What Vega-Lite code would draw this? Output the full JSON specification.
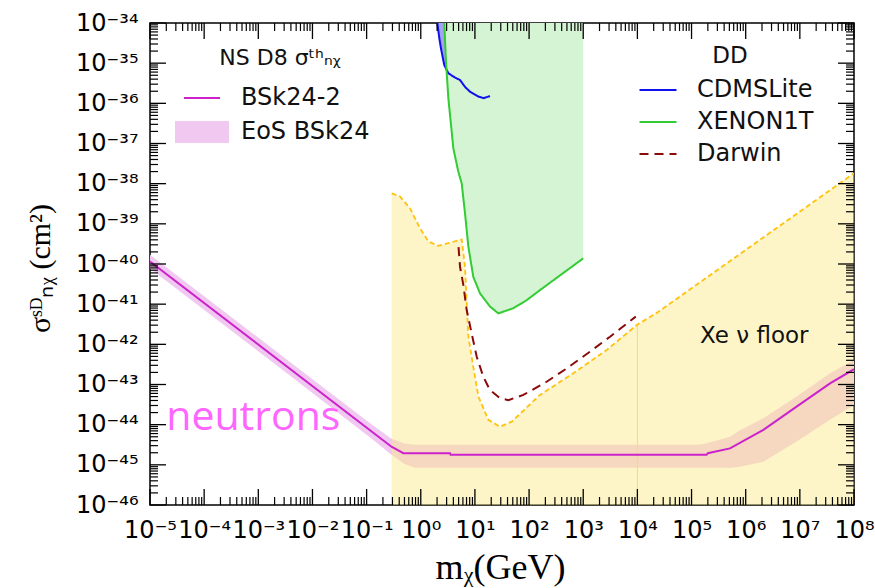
{
  "$schema": "https://vega.github.io/schema/vega-lite/v6.json",
  "width": 704,
  "height": 482,
  "autosize": {"type": "none"},
  "padding": {"left": 150, "top": 23, "right": 21, "bottom": 83},
  "background": "white",
  "config": {
    "view": {"stroke": "black", "strokeWidth": 1.5},
    "font": "DejaVu Sans",
    "axis": {"domain": false, "ticks": false, "grid": false, "labelColor": "black", "labelFont": "DejaVu Sans", "labelFontSize": 24, "titleColor": "black", "labelFlush": false, "labelOverlap": false, "labelBound": false}
  },
  "datasets": {
    "band": [
      {"m": 1e-5, "hi": 1.70e-40, "lo": 7.76e-41, "ns": "EoS BSk24"},
      {"m": 3.16e-3, "hi": 4.47e-43, "lo": 2.04e-43, "ns": "EoS BSk24"},
      {"m": 0.126, "hi": 1.0e-44, "lo": 4.37e-45, "ns": "EoS BSk24"},
      {"m": 0.288, "hi": 4.47e-45, "lo": 1.78e-45, "ns": "EoS BSk24"},
      {"m": 0.501, "hi": 3.39e-45, "lo": 1.05e-45, "ns": "EoS BSk24"},
      {"m": 0.794, "hi": 3.16e-45, "lo": 8.51e-46, "ns": "EoS BSk24"},
      {"m": 1.26e5, "hi": 3.16e-45, "lo": 8.51e-46, "ns": "EoS BSk24"},
      {"m": 1.66e5, "hi": 3.31e-45, "lo": 8.51e-46, "ns": "EoS BSk24"},
      {"m": 3.16e5, "hi": 4.17e-45, "lo": 8.51e-46, "ns": "EoS BSk24"},
      {"m": 5.13e5, "hi": 5.01e-45, "lo": 8.51e-46, "ns": "EoS BSk24"},
      {"m": 7.87e5, "hi": 7.24e-45, "lo": 8.91e-46, "ns": "EoS BSk24"},
      {"m": 2.12e6, "hi": 1.45e-44, "lo": 1.20e-45, "ns": "EoS BSk24"},
      {"m": 8.71e6, "hi": 5.01e-44, "lo": 3.80e-45, "ns": "EoS BSk24"},
      {"m": 3.61e7, "hi": 1.91e-43, "lo": 1.32e-44, "ns": "EoS BSk24"},
      {"m": 1e8, "hi": 4.07e-43, "lo": 3.09e-44, "ns": "EoS BSk24"}
    ],
    "bsk": [
      {"m": 1e-5, "s": 1.15e-40, "ns": "BSk24-2"},
      {"m": 0.288, "s": 2.82e-45, "ns": "BSk24-2"},
      {"m": 0.476, "s": 1.95e-45, "ns": "BSk24-2"},
      {"m": 3.47, "s": 1.95e-45, "ns": "BSk24-2"},
      {"m": 3.55, "s": 1.78e-45, "ns": "BSk24-2"},
      {"m": 1.9e5, "s": 1.78e-45, "ns": "BSk24-2"},
      {"m": 2.0e5, "s": 1.95e-45, "ns": "BSk24-2"},
      {"m": 5.13e5, "s": 2.57e-45, "ns": "BSk24-2"},
      {"m": 2.12e6, "s": 7.41e-45, "ns": "BSk24-2"},
      {"m": 8.71e6, "s": 2.82e-44, "ns": "BSk24-2"},
      {"m": 3.61e7, "s": 1.07e-43, "ns": "BSk24-2"},
      {"m": 1e8, "s": 2.40e-43, "ns": "BSk24-2"}
    ],
    "floor": [
      {"m": 0.290, "s": 5.75e-39},
      {"m": 0.414, "s": 4.79e-39},
      {"m": 0.632, "s": 2.45e-39},
      {"m": 0.968, "s": 7.76e-40},
      {"m": 1.38, "s": 3.63e-40},
      {"m": 2.11, "s": 2.82e-40},
      {"m": 3.23, "s": 3.31e-40},
      {"m": 5.70, "s": 4.07e-40},
      {"m": 6.56, "s": 8.51e-41},
      {"m": 7.24, "s": 4.90e-42},
      {"m": 7.57, "s": 1.55e-42},
      {"m": 9.33, "s": 2.75e-43},
      {"m": 11.6, "s": 5.01e-44},
      {"m": 17.7, "s": 1.32e-44},
      {"m": 29.0, "s": 8.91e-45},
      {"m": 47.9, "s": 1.19e-44},
      {"m": 159, "s": 5.50e-44},
      {"m": 656, "s": 1.91e-43},
      {"m": 2716, "s": 7.24e-43},
      {"m": 9727, "s": 3.02e-42},
      {"m": 24400, "s": 6.46e-42},
      {"m": 1e8, "s": 1.82e-38}
    ],
    "dd": [
      {"det": "CDMSLite", "m": 2.02, "s": 1.0e-34},
      {"det": "CDMSLite", "m": 2.20, "s": 4.17e-35},
      {"det": "CDMSLite", "m": 2.36, "s": 2.34e-35},
      {"det": "CDMSLite", "m": 2.72, "s": 8.91e-36},
      {"det": "CDMSLite", "m": 3.23, "s": 5.62e-36},
      {"det": "CDMSLite", "m": 4.29, "s": 4.37e-36},
      {"det": "CDMSLite", "m": 5.31, "s": 3.80e-36},
      {"det": "CDMSLite", "m": 6.56, "s": 2.57e-36},
      {"det": "CDMSLite", "m": 8.11, "s": 1.95e-36},
      {"det": "CDMSLite", "m": 11.6, "s": 1.48e-36},
      {"det": "CDMSLite", "m": 14.3, "s": 1.35e-36},
      {"det": "CDMSLite", "m": 19.0, "s": 1.51e-36},
      {"det": "XENON1T", "m": 2.72, "s": 1.0e-34},
      {"det": "XENON1T", "m": 2.92, "s": 1.10e-35},
      {"det": "XENON1T", "m": 3.23, "s": 1.35e-36},
      {"det": "XENON1T", "m": 3.57, "s": 3.47e-37},
      {"det": "XENON1T", "m": 3.99, "s": 7.59e-38},
      {"det": "XENON1T", "m": 4.93, "s": 2.0e-38},
      {"det": "XENON1T", "m": 5.70, "s": 1.02e-38},
      {"det": "XENON1T", "m": 6.56, "s": 1.82e-39},
      {"det": "XENON1T", "m": 7.57, "s": 2.69e-40},
      {"det": "XENON1T", "m": 9.33, "s": 4.79e-41},
      {"det": "XENON1T", "m": 12.4, "s": 1.86e-41},
      {"det": "XENON1T", "m": 19.0, "s": 8.71e-42},
      {"det": "XENON1T", "m": 27.1, "s": 5.89e-42},
      {"det": "XENON1T", "m": 51.3, "s": 7.94e-42},
      {"det": "XENON1T", "m": 90.6, "s": 1.26e-41},
      {"det": "XENON1T", "m": 159, "s": 2.24e-41},
      {"det": "XENON1T", "m": 1000, "s": 1.38e-40},
      {"det": "Darwin", "m": 4.98, "s": 2.63e-40},
      {"det": "Darwin", "m": 5.31, "s": 8.51e-41},
      {"det": "Darwin", "m": 6.11, "s": 3.02e-41},
      {"det": "Darwin", "m": 7.03, "s": 7.24e-42},
      {"det": "Darwin", "m": 8.71, "s": 1.86e-42},
      {"det": "Darwin", "m": 10.8, "s": 4.90e-43},
      {"det": "Darwin", "m": 14.3, "s": 1.55e-43},
      {"det": "Darwin", "m": 19.0, "s": 7.24e-44},
      {"det": "Darwin", "m": 29.0, "s": 4.57e-44},
      {"det": "Darwin", "m": 41.4, "s": 4.07e-44},
      {"det": "Darwin", "m": 78.3, "s": 5.50e-44},
      {"det": "Darwin", "m": 211, "s": 1.17e-43},
      {"det": "Darwin", "m": 495, "s": 2.51e-43},
      {"det": "Darwin", "m": 1337, "s": 6.61e-43},
      {"det": "Darwin", "m": 3126, "s": 1.55e-42},
      {"det": "Darwin", "m": 9333, "s": 4.90e-42}
    ],
    "vline": [{"m": 10000, "s": 3.1e-42}],
    "neut": [{"m": 2.0e-5, "s": 7.41e-45, "label": "neutrons"}],
    "floorlab": [{"m": 1.44e5, "s": 1.07e-42, "label": "Xe ν floor"}],
    "xmaj": [{"m": 1e-5}, {"m": 1e-4}, {"m": 1e-3}, {"m": 1e-2}, {"m": 0.1}, {"m": 1}, {"m": 10}, {"m": 100}, {"m": 1000}, {"m": 1e4}, {"m": 1e5}, {"m": 1e6}, {"m": 1e7}, {"m": 1e8}],
    "xmin": [{"m":2e-5},{"m":3e-5},{"m":4e-5},{"m":5e-5},{"m":6e-5},{"m":7e-5},{"m":8e-5},{"m":9e-5},{"m":2e-4},{"m":3e-4},{"m":4e-4},{"m":5e-4},{"m":6e-4},{"m":7e-4},{"m":8e-4},{"m":9e-4},{"m":2e-3},{"m":3e-3},{"m":4e-3},{"m":5e-3},{"m":6e-3},{"m":7e-3},{"m":8e-3},{"m":9e-3},{"m":0.02},{"m":0.03},{"m":0.04},{"m":0.05},{"m":0.06},{"m":0.07},{"m":0.08},{"m":0.09},{"m":0.2},{"m":0.3},{"m":0.4},{"m":0.5},{"m":0.6},{"m":0.7},{"m":0.8},{"m":0.9},{"m":2},{"m":3},{"m":4},{"m":5},{"m":6},{"m":7},{"m":8},{"m":9},{"m":20},{"m":30},{"m":40},{"m":50},{"m":60},{"m":70},{"m":80},{"m":90},{"m":200},{"m":300},{"m":400},{"m":500},{"m":600},{"m":700},{"m":800},{"m":900},{"m":2000},{"m":3000},{"m":4000},{"m":5000},{"m":6000},{"m":7000},{"m":8000},{"m":9000},{"m":2e4},{"m":3e4},{"m":4e4},{"m":5e4},{"m":6e4},{"m":7e4},{"m":8e4},{"m":9e4},{"m":2e5},{"m":3e5},{"m":4e5},{"m":5e5},{"m":6e5},{"m":7e5},{"m":8e5},{"m":9e5},{"m":2e6},{"m":3e6},{"m":4e6},{"m":5e6},{"m":6e6},{"m":7e6},{"m":8e6},{"m":9e6},{"m":2e7},{"m":3e7},{"m":4e7},{"m":5e7},{"m":6e7},{"m":7e7},{"m":8e7},{"m":9e7}],
    "ymaj": [{"s": 1e-46}, {"s": 1e-45}, {"s": 1e-44}, {"s": 1e-43}, {"s": 1e-42}, {"s": 1e-41}, {"s": 1e-40}, {"s": 1e-39}, {"s": 1e-38}, {"s": 1e-37}, {"s": 1e-36}, {"s": 1e-35}, {"s": 1e-34}],
    "ymin": [{"s":2e-46},{"s":3e-46},{"s":4e-46},{"s":5e-46},{"s":6e-46},{"s":7e-46},{"s":8e-46},{"s":9e-46},{"s":2e-45},{"s":3e-45},{"s":4e-45},{"s":5e-45},{"s":6e-45},{"s":7e-45},{"s":8e-45},{"s":9e-45},{"s":2e-44},{"s":3e-44},{"s":4e-44},{"s":5e-44},{"s":6e-44},{"s":7e-44},{"s":8e-44},{"s":9e-44},{"s":2e-43},{"s":3e-43},{"s":4e-43},{"s":5e-43},{"s":6e-43},{"s":7e-43},{"s":8e-43},{"s":9e-43},{"s":2e-42},{"s":3e-42},{"s":4e-42},{"s":5e-42},{"s":6e-42},{"s":7e-42},{"s":8e-42},{"s":9e-42},{"s":2e-41},{"s":3e-41},{"s":4e-41},{"s":5e-41},{"s":6e-41},{"s":7e-41},{"s":8e-41},{"s":9e-41},{"s":2e-40},{"s":3e-40},{"s":4e-40},{"s":5e-40},{"s":6e-40},{"s":7e-40},{"s":8e-40},{"s":9e-40},{"s":2e-39},{"s":3e-39},{"s":4e-39},{"s":5e-39},{"s":6e-39},{"s":7e-39},{"s":8e-39},{"s":9e-39},{"s":2e-38},{"s":3e-38},{"s":4e-38},{"s":5e-38},{"s":6e-38},{"s":7e-38},{"s":8e-38},{"s":9e-38},{"s":2e-37},{"s":3e-37},{"s":4e-37},{"s":5e-37},{"s":6e-37},{"s":7e-37},{"s":8e-37},{"s":9e-37},{"s":2e-36},{"s":3e-36},{"s":4e-36},{"s":5e-36},{"s":6e-36},{"s":7e-36},{"s":8e-36},{"s":9e-36},{"s":2e-35},{"s":3e-35},{"s":4e-35},{"s":5e-35},{"s":6e-35},{"s":7e-35},{"s":8e-35},{"s":9e-35}]
  },
  "layer": [
    {
      "data": {"name": "band"},
      "mark": {"type": "area", "clip": true, "opacity": 1},
      "encoding": {
        "x": {"field": "m", "type": "quantitative", "scale": {"type": "log", "domain": [1e-5, 1e8], "nice": false},
          "axis": {
            "orient": "bottom",
            "values": [1e-5,0.0001,0.001,0.01,0.1,1,10,100,1000,10000,100000,1000000,10000000,100000000],
            "labelPadding": 13,
            "labelExpr": "'10' + (round(log(datum.value)/LN10) < 0 ? '⁻' : '') + ['⁰','¹','²','³','⁴','⁵','⁶','⁷','⁸','⁹'][abs(round(log(datum.value)/LN10)) % 10]",
            "title": "mᵪ(GeV)",
            "titleFont": "Liberation Serif",
            "titleFontSize": 36,
            "titleFontWeight": "normal",
            "titleX": 350,
            "titleY": 73,
            "titleBaseline": "alphabetic",
            "titleAlign": "center"
          }
        },
        "y": {"field": "hi", "type": "quantitative", "scale": {"type": "log", "domain": [1e-46, 1e-34], "nice": false},
          "axis": {
            "orient": "left",
            "values": [1e-46,1e-45,1e-44,1e-43,1e-42,1e-41,1e-40,1e-39,1e-38,1e-37,1e-36,1e-35,1e-34],
            "labelPadding": 12,
            "labelExpr": "'10' + (round(log(datum.value)/LN10) < 0 ? '⁻' : '') + (abs(round(log(datum.value)/LN10)) >= 10 ? ['⁰','¹','²','³','⁴','⁵','⁶','⁷','⁸','⁹'][floor(abs(round(log(datum.value)/LN10))/10)] : '') + ['⁰','¹','²','³','⁴','⁵','⁶','⁷','⁸','⁹'][abs(round(log(datum.value)/LN10)) % 10]",
            "title": "σˢᴰₙᵪ (cm²)",
            "titleFont": "Liberation Serif",
            "titleFontSize": 30,
            "titleFontWeight": "normal",
            "titleAngle": -90,
            "titleX": -110,
            "titleY": 245,
            "titleBaseline": "middle",
            "titleAlign": "center"
          }
        },
        "y2": {"field": "lo"},
        "color": {"field": "ns", "type": "nominal", "scale": {"domain": ["BSk24-2", "EoS BSk24"], "range": ["#cc22cc", "#f0c8f0"]}}
      }
    },
    {
      "data": {"name": "floor"},
      "mark": {"type": "area", "clip": true, "color": "#fbea89", "opacity": 0.47},
      "encoding": {
        "x": {"field": "m", "type": "quantitative", "scale": {"type": "log", "domain": [1e-5, 1e8], "nice": false}, "axis": null},
        "y": {"field": "s", "type": "quantitative", "scale": {"type": "log", "domain": [1e-46, 1e-34], "nice": false}, "axis": null},
        "y2": {"datum": 1e-46}
      }
    },
    {
      "data": {"name": "vline"},
      "mark": {"type": "rule", "clip": true, "color": "#fcd870", "strokeWidth": 1},
      "encoding": {
        "x": {"field": "m", "type": "quantitative", "scale": {"type": "log", "domain": [1e-5, 1e8], "nice": false}, "axis": null},
        "y": {"field": "s", "type": "quantitative", "scale": {"type": "log", "domain": [1e-46, 1e-34], "nice": false}, "axis": null},
        "y2": {"datum": 1e-46}
      }
    },
    {
      "data": {"name": "floor"},
      "mark": {"type": "line", "clip": true, "color": "#ffc20e", "strokeWidth": 1.8, "strokeDash": [5, 3]},
      "encoding": {
        "x": {"field": "m", "type": "quantitative", "scale": {"type": "log", "domain": [1e-5, 1e8], "nice": false}, "axis": null},
        "y": {"field": "s", "type": "quantitative", "scale": {"type": "log", "domain": [1e-46, 1e-34], "nice": false}, "axis": null}
      }
    },
    {
      "data": {"name": "dd"},
      "transform": [{"filter": "datum.det === 'CDMSLite'"}],
      "mark": {"type": "area", "clip": true, "color": "#a4a4f2"},
      "encoding": {
        "x": {"field": "m", "type": "quantitative", "scale": {"type": "log", "domain": [1e-5, 1e8], "nice": false}, "axis": null},
        "y": {"field": "s", "type": "quantitative", "scale": {"type": "log", "domain": [1e-46, 1e-34], "nice": false}, "axis": null},
        "y2": {"datum": 1e-34}
      }
    },
    {
      "data": {"name": "dd"},
      "transform": [{"filter": "datum.det === 'XENON1T'"}],
      "mark": {"type": "area", "clip": true, "color": "#d4f4d4"},
      "encoding": {
        "x": {"field": "m", "type": "quantitative", "scale": {"type": "log", "domain": [1e-5, 1e8], "nice": false}, "axis": null},
        "y": {"field": "s", "type": "quantitative", "scale": {"type": "log", "domain": [1e-46, 1e-34], "nice": false}, "axis": null},
        "y2": {"datum": 1e-34}
      }
    },
    {
      "data": {"name": "dd"},
      "mark": {"type": "line", "clip": true, "strokeWidth": 2},
      "encoding": {
        "x": {"field": "m", "type": "quantitative", "scale": {"type": "log", "domain": [1e-5, 1e8], "nice": false}, "axis": null},
        "y": {"field": "s", "type": "quantitative", "scale": {"type": "log", "domain": [1e-46, 1e-34], "nice": false}, "axis": null},
        "stroke": {"field": "det", "type": "nominal",
          "scale": {"domain": ["CDMSLite", "XENON1T", "Darwin"], "range": ["#1010ee", "#33cc33", "#8b0a0a"]},
          "legend": {"orient": "none", "legendX": 496, "legendY": 22, "title": "DD", "titleFont": "DejaVu Sans", "titleFontSize": 23, "titleFontWeight": "normal", "titleColor": "#111", "titleAnchor": "middle", "titlePadding": 10, "labelFont": "DejaVu Sans", "labelFontSize": 24, "labelColor": "#111", "labelOffset": 27, "symbolType": "M-3.7,0H3.7", "symbolSize": 100, "symbolStrokeWidth": 2, "rowPadding": 8, "padding": 0}
        },
        "strokeDash": {"field": "det", "type": "nominal",
          "scale": {"domain": ["CDMSLite", "XENON1T", "Darwin"], "range": [[1, 0], [1, 0], [9, 6]]},
          "legend": {"orient": "none", "legendX": 496, "legendY": 22, "title": "DD", "titleFont": "DejaVu Sans", "titleFontSize": 23, "titleFontWeight": "normal", "titleColor": "#111", "titleAnchor": "middle", "titlePadding": 10, "labelFont": "DejaVu Sans", "labelFontSize": 24, "labelColor": "#111", "labelOffset": 27, "symbolType": "M-3.7,0H3.7", "symbolSize": 100, "symbolStrokeWidth": 2, "rowPadding": 8, "padding": 0}
        }
      }
    },
    {
      "data": {"name": "bsk"},
      "mark": {"type": "line", "clip": true, "strokeWidth": 2},
      "encoding": {
        "x": {"field": "m", "type": "quantitative", "scale": {"type": "log", "domain": [1e-5, 1e8], "nice": false}, "axis": null},
        "y": {"field": "s", "type": "quantitative", "scale": {"type": "log", "domain": [1e-46, 1e-34], "nice": false}, "axis": null},
        "color": {"field": "ns", "type": "nominal", "scale": {"domain": ["BSk24-2", "EoS BSk24"], "range": ["#cc22cc", "#f0c8f0"]},
          "legend": {"orient": "none", "legendX": 40, "legendY": 25, "title": "NS D8 σᵗʰₙᵪ", "titleFont": "DejaVu Sans", "titleFontSize": 22, "titleFontWeight": "normal", "titleColor": "#111", "titleAnchor": "middle", "titlePadding": 16, "labelFont": "DejaVu Sans", "labelFontSize": 24, "labelColor": "#111", "labelOffset": 27, "symbolSize": 100, "symbolStrokeWidth": 2, "rowPadding": 8, "padding": 0,
            "encode": {"symbols": {"update": {
              "shape": {"signal": "datum.value === 'BSk24-2' ? 'M-3.6,0H3.6' : 'M-5.2,-2H5.2V2H-5.2Z'"},
              "fill": {"signal": "datum.value === 'BSk24-2' ? 'transparent' : '#f0c8f0'"},
              "stroke": {"signal": "datum.value === 'BSk24-2' ? '#cc22cc' : 'transparent'"},
              "strokeWidth": {"value": 2},
              "opacity": {"value": 1}
            }}}
          }
        }
      }
    },
    {
      "data": {"name": "neut"},
      "mark": {"type": "text", "font": "Open Sans", "fontSize": 41, "color": "#ff66ff", "align": "left", "baseline": "alphabetic"},
      "encoding": {
        "x": {"field": "m", "type": "quantitative", "scale": {"type": "log", "domain": [1e-5, 1e8], "nice": false}, "axis": null},
        "y": {"field": "s", "type": "quantitative", "scale": {"type": "log", "domain": [1e-46, 1e-34], "nice": false}, "axis": null},
        "text": {"field": "label"}
      }
    },
    {
      "data": {"name": "floorlab"},
      "mark": {"type": "text", "font": "DejaVu Sans", "fontSize": 23, "color": "#111", "align": "left", "baseline": "alphabetic"},
      "encoding": {
        "x": {"field": "m", "type": "quantitative", "scale": {"type": "log", "domain": [1e-5, 1e8], "nice": false}, "axis": null},
        "y": {"field": "s", "type": "quantitative", "scale": {"type": "log", "domain": [1e-46, 1e-34], "nice": false}, "axis": null},
        "text": {"field": "label"}
      }
    },
    {
      "data": {"name": "xmaj"},
      "mark": {"type": "rule", "color": "black", "strokeWidth": 1.3},
      "encoding": {
        "x": {"field": "m", "type": "quantitative", "scale": {"type": "log", "domain": [1e-5, 1e8], "nice": false}, "axis": null},
        "y": {"datum": 1e-46, "type": "quantitative", "scale": {"type": "log", "domain": [1e-46, 1e-34], "nice": false}, "axis": null},
        "y2": {"datum": 2.5e-46}
      }
    },
    {
      "data": {"name": "xmaj"},
      "mark": {"type": "rule", "color": "black", "strokeWidth": 1.3},
      "encoding": {
        "x": {"field": "m", "type": "quantitative", "scale": {"type": "log", "domain": [1e-5, 1e8], "nice": false}, "axis": null},
        "y": {"datum": 1e-34, "type": "quantitative", "scale": {"type": "log", "domain": [1e-46, 1e-34], "nice": false}, "axis": null},
        "y2": {"datum": 4e-35}
      }
    },
    {
      "data": {"name": "xmin"},
      "mark": {"type": "rule", "color": "black", "strokeWidth": 1.2},
      "encoding": {
        "x": {"field": "m", "type": "quantitative", "scale": {"type": "log", "domain": [1e-5, 1e8], "nice": false}, "axis": null},
        "y": {"datum": 1e-46, "type": "quantitative", "scale": {"type": "log", "domain": [1e-46, 1e-34], "nice": false}, "axis": null},
        "y2": {"datum": 1.58e-46}
      }
    },
    {
      "data": {"name": "xmin"},
      "mark": {"type": "rule", "color": "black", "strokeWidth": 1.2},
      "encoding": {
        "x": {"field": "m", "type": "quantitative", "scale": {"type": "log", "domain": [1e-5, 1e8], "nice": false}, "axis": null},
        "y": {"datum": 1e-34, "type": "quantitative", "scale": {"type": "log", "domain": [1e-46, 1e-34], "nice": false}, "axis": null},
        "y2": {"datum": 6.3e-35}
      }
    },
    {
      "data": {"name": "ymaj"},
      "mark": {"type": "rule", "color": "black", "strokeWidth": 1.3},
      "encoding": {
        "y": {"field": "s", "type": "quantitative", "scale": {"type": "log", "domain": [1e-46, 1e-34], "nice": false}, "axis": null},
        "x": {"datum": 1e-5, "type": "quantitative", "scale": {"type": "log", "domain": [1e-5, 1e8], "nice": false}, "axis": null},
        "x2": {"datum": 1.975e-5}
      }
    },
    {
      "data": {"name": "ymaj"},
      "mark": {"type": "rule", "color": "black", "strokeWidth": 1.3},
      "encoding": {
        "y": {"field": "s", "type": "quantitative", "scale": {"type": "log", "domain": [1e-46, 1e-34], "nice": false}, "axis": null},
        "x": {"datum": 1e8, "type": "quantitative", "scale": {"type": "log", "domain": [1e-5, 1e8], "nice": false}, "axis": null},
        "x2": {"datum": 5.06e7}
      }
    },
    {
      "data": {"name": "ymin"},
      "mark": {"type": "rule", "color": "black", "strokeWidth": 1.2},
      "encoding": {
        "y": {"field": "s", "type": "quantitative", "scale": {"type": "log", "domain": [1e-46, 1e-34], "nice": false}, "axis": null},
        "x": {"datum": 1e-5, "type": "quantitative", "scale": {"type": "log", "domain": [1e-5, 1e8], "nice": false}, "axis": null},
        "x2": {"datum": 1.405e-5}
      }
    },
    {
      "data": {"name": "ymin"},
      "mark": {"type": "rule", "color": "black", "strokeWidth": 1.2},
      "encoding": {
        "y": {"field": "s", "type": "quantitative", "scale": {"type": "log", "domain": [1e-46, 1e-34], "nice": false}, "axis": null},
        "x": {"datum": 1e8, "type": "quantitative", "scale": {"type": "log", "domain": [1e-5, 1e8], "nice": false}, "axis": null},
        "x2": {"datum": 7.12e7}
      }
    }
  ],
  "resolve": {"axis": {"x": "independent", "y": "independent"}}
}
